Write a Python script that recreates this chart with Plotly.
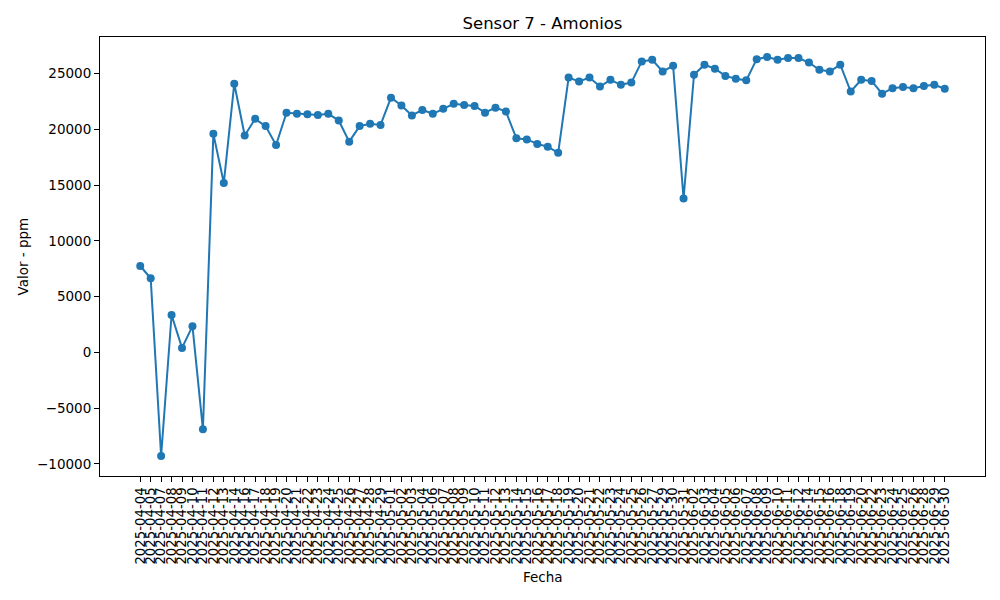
import plotly.graph_objects as go

fechas = [
    "2025-04-04", "2025-04-05", "2025-04-07", "2025-04-08", "2025-04-09", "2025-04-10",
    "2025-04-11", "2025-04-12", "2025-04-13", "2025-04-14", "2025-04-16", "2025-04-17",
    "2025-04-18", "2025-04-19", "2025-04-20", "2025-04-21", "2025-04-22", "2025-04-23",
    "2025-04-24", "2025-04-25", "2025-04-26", "2025-04-27", "2025-04-28", "2025-04-29",
    "2025-05-01", "2025-05-02", "2025-05-03", "2025-05-04", "2025-05-06", "2025-05-07",
    "2025-05-08", "2025-05-09", "2025-05-10", "2025-05-11", "2025-05-12", "2025-05-13",
    "2025-05-14", "2025-05-15", "2025-05-16", "2025-05-17", "2025-05-18", "2025-05-19",
    "2025-05-20", "2025-05-21", "2025-05-22", "2025-05-23", "2025-05-24", "2025-05-25",
    "2025-05-26", "2025-05-27", "2025-05-29", "2025-05-30", "2025-05-31", "2025-06-02",
    "2025-06-03", "2025-06-04", "2025-06-05", "2025-06-06", "2025-06-07", "2025-06-08",
    "2025-06-09", "2025-06-10", "2025-06-11", "2025-06-12", "2025-06-14", "2025-06-15",
    "2025-06-16", "2025-06-18", "2025-06-19", "2025-06-20", "2025-06-22", "2025-06-23",
    "2025-06-24", "2025-06-25", "2025-06-26", "2025-06-28", "2025-06-29", "2025-06-30",
]

valores = [
    7750, 6650, -9300, 3350, 400, 2350,
    -6900, 19600, 15200, 24100, 19450, 20950,
    20300, 18600, 21500, 21400, 21350, 21300,
    21400, 20800, 18900, 20300, 20500, 20400,
    22850, 22150, 21250, 21750, 21400, 21850,
    22300, 22200, 22100, 21500, 21950, 21600,
    19200, 19100, 18700, 18450, 17900, 24650,
    24300, 24650, 23850, 24450, 24000, 24200,
    26100, 26250, 25200, 25700, 13800, 24900,
    25800, 25450, 24800, 24550, 24400, 26300,
    26500, 26250, 26400, 26400, 26000, 25350,
    25200, 25800, 23400, 24450, 24350, 23200,
    23700, 23800, 23700, 23900, 24000, 23650,
]

y_ticks = [-10000, -5000, 0, 5000, 10000, 15000, 20000, 25000]

titulo = "Sensor 7 - Amonios"
etiqueta_x = "Fecha"
etiqueta_y = "Valor - ppm"

color = "#1f77b4"
font_family = "DejaVu Sans"

n = len(fechas)
vmin, vmax = min(valores), max(valores)
span = vmax - vmin

fig = go.Figure()
fig.add_trace(go.Scatter(
    x=fechas,
    y=valores,
    mode="lines+markers",
    line=dict(color=color, width=2),
    marker=dict(color=color, size=8),
    showlegend=False,
))

L, R, T, B = 100, 15, 37, 124
fig.update_layout(
    width=1000,
    height=600,
    margin=dict(l=L, r=R, t=T, b=B, autoexpand=False),
    paper_bgcolor="white",
    plot_bgcolor="white",
    font=dict(family=font_family, size=13, color="black"),
    title=dict(
        text=titulo,
        x=0.5, xref="paper", xanchor="center",
        y=1 - 23 / 600, yref="container", yanchor="middle",
        font=dict(family=font_family, size=16.5, color="black"),
    ),
    xaxis=dict(
        type="category",
        categoryorder="array",
        categoryarray=fechas,
        tickmode="array",
        tickvals=fechas,
        ticktext=fechas,
        range=[-0.05 * (n - 1), (n - 1) * 1.05],
        tickangle=-90,
        ticks="outside",
        ticklen=5,
        tickwidth=1,
        tickcolor="black",
        showline=True,
        linecolor="black",
        linewidth=1,
        mirror=True,
        showgrid=False,
        zeroline=False,
        tickfont=dict(family=font_family, size=13.3, color="black"),
    ),
    yaxis=dict(
        range=[vmin - 0.05 * span, vmax + 0.05 * span],
        tickvals=y_ticks,
        tickformat="d",
        ticks="outside",
        ticklen=5,
        tickwidth=1,
        tickcolor="black",
        showline=True,
        linecolor="black",
        linewidth=1,
        mirror=True,
        showgrid=False,
        zeroline=False,
        tickfont=dict(family=font_family, size=13.5, color="black"),
    ),
    annotations=[
        dict(
            text=etiqueta_x, xref="paper", yref="paper",
            x=0.5, y=(476 - 577) / 439, xanchor="center", yanchor="middle",
            showarrow=False, font=dict(family=font_family, size=13.5, color="black"),
        ),
        dict(
            text=etiqueta_y, xref="paper", yref="paper",
            x=(22 - 100) / 885, y=0.5, xanchor="center", yanchor="middle",
            textangle=-90,
            showarrow=False, font=dict(family=font_family, size=13.5, color="black"),
        ),
    ],
)

fig.write_html(
    "out.html",
    config={"displayModeBar": False},
    post_script="document.body.style.margin='0';",
)
